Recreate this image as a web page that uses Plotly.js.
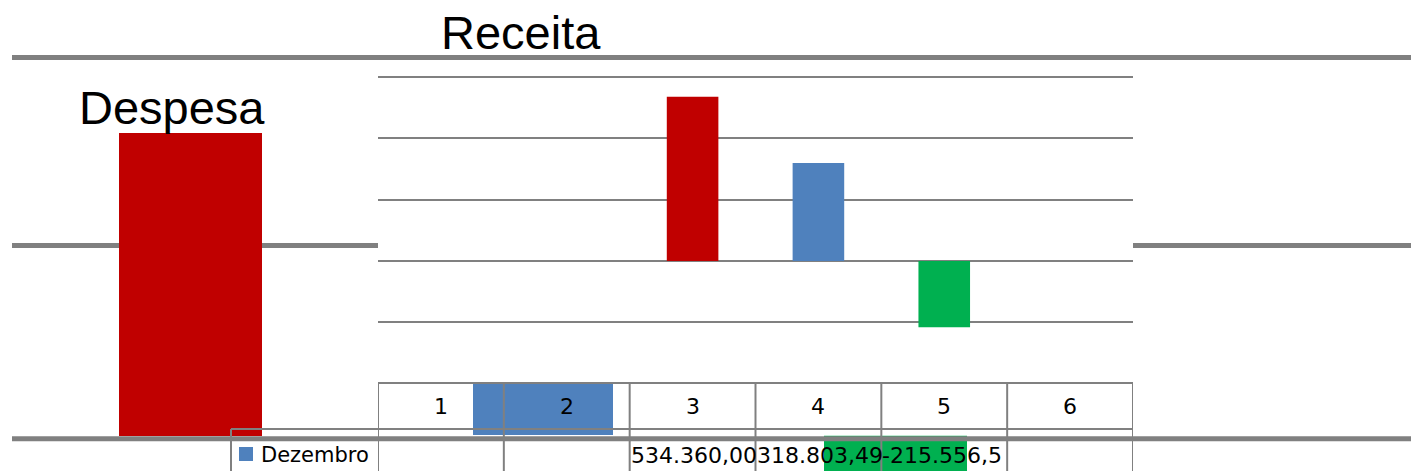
<!DOCTYPE html>
<html>
<head>
<meta charset="utf-8">
<script src="https://cdn.plot.ly/plotly-3.0.1.min.js"></script>
<style>html,body{margin:0;padding:0;background:#fff;}#chart{width:1411px;height:471px;}</style>
</head>
<body>
<div id="chart"></div>
<script>
// ---- data ----
const chartTitle = "Receita";
const secondTitle = "Despesa";
const seriesName = "Dezembro";
const categories = [1, 2, 3, 4, 5, 6];
const dezembro = [null, null, 534360.00, 318803.49, -215556.50, null];
const despesa = [534360.00];

// ---- styles ----
const barColors = ['#4F81BD', '#4F81BD', '#C00000', '#4F81BD', '#00B050', '#4F81BD'];
const GREY = '#808080';
const W = 1411, H = 471;
const px = v => v / W;
const py = v => 1 - v / H;

function fmtBR(v) {
  if (v === null || v === undefined) return '';
  const neg = v < 0;
  const a = Math.abs(v).toFixed(2).split('.');
  const int = a[0].replace(/\B(?=(\d{3})+(?!\d))/g, '.');
  return ((neg ? '-' : '') + int + ',' + a[1]).slice(0, 10);
}

const traces = [
  {type: 'bar', x: categories, y: dezembro, width: 0.41,
   marker: {color: barColors}, xaxis: 'x', yaxis: 'y', hoverinfo: 'skip', showlegend: false},
  {type: 'bar', x: [1], y: despesa, width: 1,
   marker: {color: '#C00000'}, xaxis: 'x2', yaxis: 'y2', hoverinfo: 'skip', showlegend: false},
  {type: 'bar', x: [1], y: [dezembro[3]], width: 1,
   marker: {color: '#4F81BD'}, xaxis: 'x3', yaxis: 'y3', hoverinfo: 'skip', showlegend: false},
  {type: 'bar', x: [1], y: [dezembro[4]], width: 1,
   marker: {color: '#00B050'}, xaxis: 'x4', yaxis: 'y4', hoverinfo: 'skip', showlegend: false}
];

const hidden = {showgrid: false, zeroline: false, showticklabels: false, showline: false, ticks: ''};

const shapes = [];
function line(x0, y0, x1, y1, w, xref, layer) {
  shapes.push({type: 'line', xref: xref || 'paper', yref: 'paper', x0: x0, x1: x1, y0: y0, y1: y1,
    line: {color: GREY, width: w}, layer: layer || 'above'});
}
line(px(12), py(57.5), 1, py(57.5), 5);
line(px(12), py(245.5), px(378), py(245.5), 5, 'paper', 'below');
line(px(1133), py(245.5), 1, py(245.5), 5, 'paper', 'below');
line(0.5, py(383), 6.5, py(383), 2, 'x');
line(px(231), py(429), px(1133), py(429), 2);
for (let k = 0; k <= categories.length; k++) line(k + 0.5, py(383), k + 0.5, py(471), 2, 'x');
line(px(231), py(429), px(231), py(471), 2);
line(px(12), py(438.7), 1, py(438.7), 5);
shapes.push({type: 'rect', xref: 'paper', yref: 'paper', x0: px(239), x1: px(253), y0: py(461), y1: py(447),
  fillcolor: '#4F81BD', line: {width: 0}, layer: 'above'});

const cellFont = {family: 'DejaVu Sans', size: 22, color: '#000'};
const annotations = [
  {text: chartTitle, xref: 'paper', yref: 'paper', x: px(520.5), y: py(33), xanchor: 'center', yanchor: 'middle',
   showarrow: false, font: {family: 'Liberation Sans, Arial', size: 47, color: '#000'}},
  {text: secondTitle, xref: 'paper', yref: 'paper', x: px(172), y: py(108), xanchor: 'center', yanchor: 'middle',
   showarrow: false, font: {family: 'Liberation Sans, Arial', size: 47, color: '#000'}},
  {text: seriesName, xref: 'paper', yref: 'paper', x: px(259), y: py(455), xanchor: 'left', yanchor: 'middle',
   showarrow: false, font: {family: 'DejaVu Sans', size: 21, color: '#000'}}
];
categories.forEach((c, i) => {
  annotations.push({text: String(c), xref: 'x', yref: 'paper', x: c, y: py(406), xanchor: 'center', yanchor: 'middle',
    showarrow: false, font: cellFont});
  const t = fmtBR(dezembro[i]);
  if (t) annotations.push({text: t, xref: 'x', yref: 'paper', x: c - 0.5, xshift: -1, y: py(455), xanchor: 'left', yanchor: 'middle',
    showarrow: false, font: cellFont});
});

const layout = {
  width: W, height: H, autosize: false,
  margin: {l: 0, r: 0, t: 0, b: 0, pad: 0},
  paper_bgcolor: '#fff', plot_bgcolor: 'rgba(0,0,0,0)',
  showlegend: false,
  xaxis: Object.assign({}, hidden, {domain: [px(378), px(1133)], range: [0.5, 6.5], fixedrange: true}),
  yaxis: {domain: [py(331.65), py(70.55)], range: [-230000, 620000], tick0: 0, dtick: 200000,
          showgrid: true, gridcolor: GREY, gridwidth: 2, zeroline: true, zerolinecolor: GREY, zerolinewidth: 2,
          showticklabels: false, ticks: '', showline: false, fixedrange: true},
  xaxis2: Object.assign({}, hidden, {domain: [px(119), px(262)], range: [0.5, 1.5], anchor: 'y2'}),
  yaxis2: Object.assign({}, hidden, {domain: [py(436), py(133)], range: [0, despesa[0]], anchor: 'x2'}),
  xaxis3: Object.assign({}, hidden, {domain: [px(473), px(613)], range: [0.5, 1.5], anchor: 'y3'}),
  yaxis3: Object.assign({}, hidden, {domain: [py(435), py(383)], range: [0, dezembro[3]], anchor: 'x3'}),
  xaxis4: Object.assign({}, hidden, {domain: [px(824), px(967)], range: [0.5, 1.5], anchor: 'y4'}),
  yaxis4: Object.assign({}, hidden, {domain: [0, py(435.5)], range: [dezembro[4], 0], anchor: 'x4'}),
  shapes: shapes,
  annotations: annotations
};

Plotly.newPlot('chart', traces, layout, {displayModeBar: false, staticPlot: true});
</script>
</body>
</html>
